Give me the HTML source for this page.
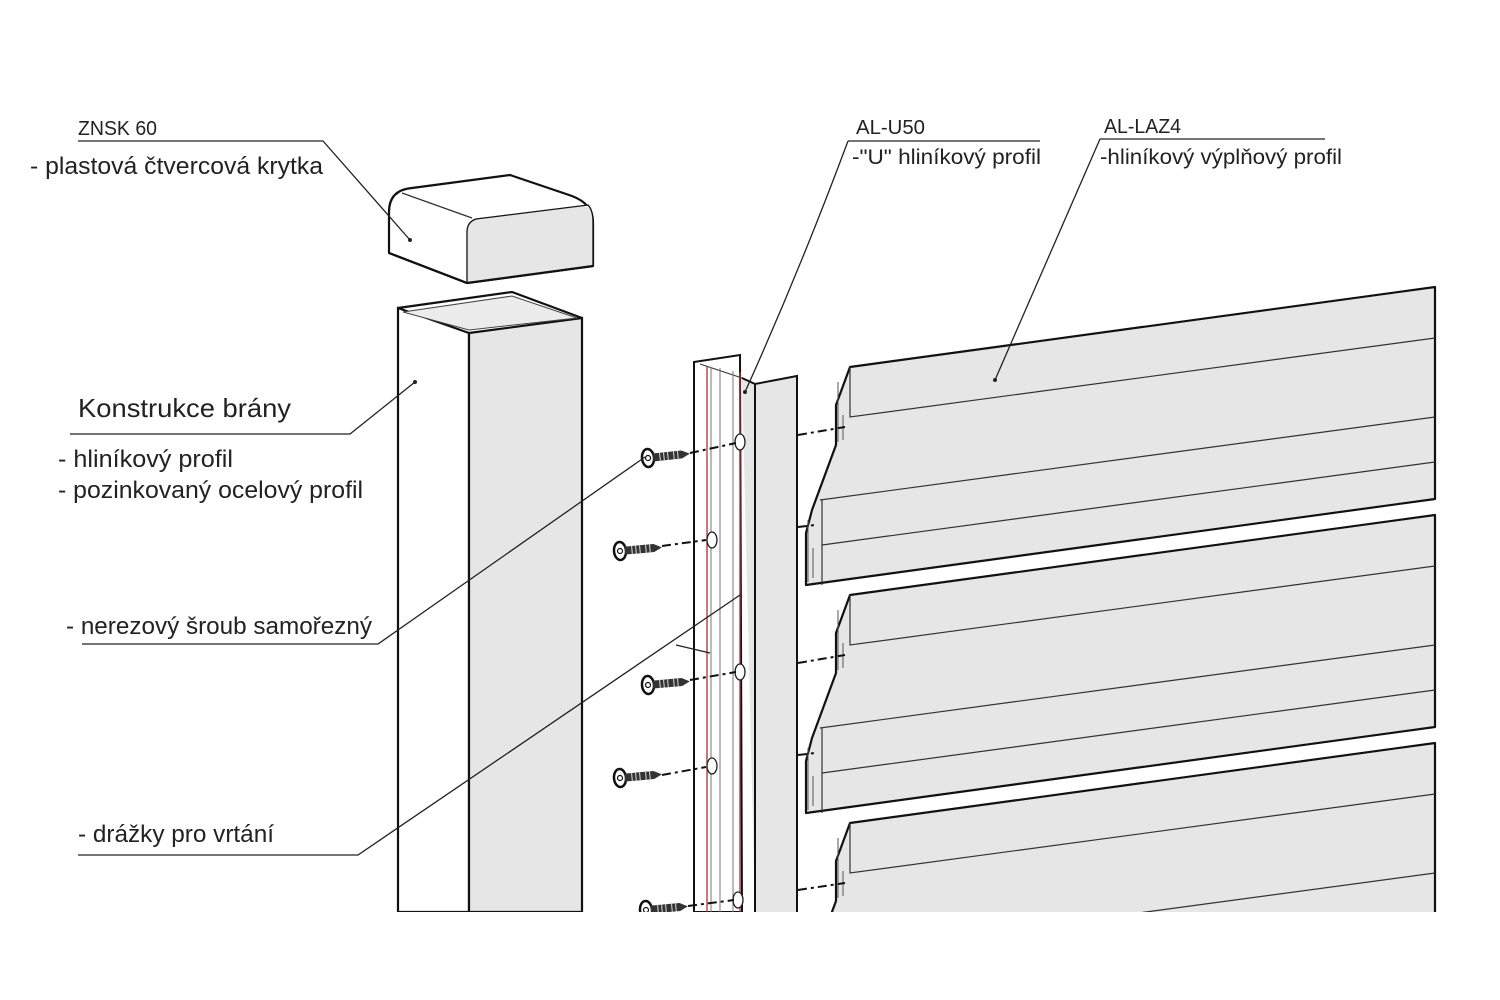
<!DOCTYPE html>
<html><head><meta charset="utf-8"><style>
html,body{margin:0;padding:0;background:#fff;}
svg{display:block;}
text{font-family:"Liberation Sans",sans-serif;fill:#222;}
</style></head><body>
<svg width="1500" height="1000" viewBox="0 0 1500 1000" xmlns="http://www.w3.org/2000/svg">
<rect width="1500" height="1000" fill="#fff"/>
<defs>
<clipPath id="c"><rect x="0" y="0" width="1500" height="912"/></clipPath>
<g id="lv">
<path d="M850,367 L1435,287 L1435,499 L806,585 L806,533 L812,510 L836,445 L836,405 Z" fill="#e6e6e6" stroke="#111" stroke-width="2.2" stroke-linejoin="round"/>
<path d="M850,367 L850,417 L1435,338" fill="none" stroke="#333" stroke-width="1.2"/>
<path d="M820,500 L1435,417 M822,545 L1435,462 M822,500 L822,585" fill="none" stroke="#333" stroke-width="1.2"/>
<path d="M838,382 L838,442 M843,415 L843,440" fill="none" stroke="#555" stroke-width="1"/>
<path d="M808,520 L808,582 M813,548 L813,578" fill="none" stroke="#555" stroke-width="1"/>
</g>
<g id="sc">
<ellipse cx="0" cy="0" rx="6" ry="9" fill="#fff" stroke="#111" stroke-width="2.5"/>
<circle cx="0" cy="0" r="2.5" fill="none" stroke="#111" stroke-width="1.2"/>
<path d="M5,-4 L34,-4 L42,0 L34,4 L5,4 Z" fill="#333"/>
<path d="M12,-4 v8 M16,-4 v8 M20,-4 v8 M26,-4 v8 M30,-4 v8" stroke="#ddd" stroke-width="1"/>
</g>
</defs>
<g clip-path="url(#c)">
<use href="#lv"/>
<use href="#lv" transform="translate(0,228)"/>
<use href="#lv" transform="translate(0,456)"/>
<path d="M398,308 L469,333 L469,912 L398,912 Z" fill="#fff" stroke="#111" stroke-width="2.2"/>
<path d="M469,333 L582,318 L582,912 L469,912 Z" fill="#e6e6e6" stroke="#111" stroke-width="2.2"/>
<path d="M398,308 L512,292 L582,318" fill="none" stroke="#111" stroke-width="2.2"/>
<path d="M403,312 L512,296 L577,318 L469,330 Z" fill="#ececec" stroke="#444" stroke-width="1"/>
<path d="M694,362 L740,355 L742,912 L694,912 Z" fill="#fff" stroke="#111" stroke-width="2"/>
<path d="M742,378 L755,384 L797,376 L797,912 L755,912" fill="#e6e6e6" stroke="#111" stroke-width="2"/>
<rect x="755" y="385" width="41" height="527" fill="#e6e6e6"/>
<path d="M755,384 L755,912" stroke="#111" stroke-width="2"/>
<path d="M700,364 L742,378" stroke="#333" stroke-width="1"/>
<path d="M707,366 V912 M740,372 V912" stroke="#b23030" stroke-width="1.3"/>
<path d="M711,367 V912 M720,368 V912 M733,371 V912" stroke="#777" stroke-width="1"/>
<g fill="#fff" stroke="#222" stroke-width="1.3">
<ellipse cx="740" cy="442" rx="5" ry="8"/><ellipse cx="712" cy="540" rx="5" ry="8"/>
<ellipse cx="740" cy="672" rx="5" ry="8"/><ellipse cx="712" cy="766" rx="5" ry="8"/>
<ellipse cx="738" cy="900" rx="5" ry="8"/>
</g>
<use href="#sc" transform="translate(648,458) rotate(-6)"/>
<use href="#sc" transform="translate(620,551) rotate(-5)"/>
<use href="#sc" transform="translate(648,685) rotate(-5)"/>
<use href="#sc" transform="translate(620,778) rotate(-5)"/>
<use href="#sc" transform="translate(646,910) rotate(-5)"/>
<g stroke="#111" stroke-width="2" stroke-dasharray="9,4,3,4" fill="none">
<path d="M690,453 L736,443"/><path d="M662,546 L706,540"/><path d="M690,680 L736,672"/><path d="M662,775 L706,767"/><path d="M688,906 L734,900"/>
<path d="M798,435 L845,427"/><path d="M798,527 L815,525"/><path d="M798,663 L845,655"/><path d="M798,755 L815,753"/><path d="M798,890 L845,883"/>
</g>
</g>
<path d="M389,253 L389,212 Q389,190 412,188 L510,175 L572,196 Q593,204 593,222 L593,266 L467,283 Z" fill="#fff" stroke="#111" stroke-width="2.2" stroke-linejoin="round"/>
<path d="M467,283 L467,232 Q467,222 476,219 L588,205 Q593,210 593,222 L593,266 Z" fill="#e6e6e6" stroke="#111" stroke-width="1.3"/>
<path d="M402,193 L472,218" stroke="#333" stroke-width="1.2" fill="none"/>
<path d="M389,253 L467,283 L593,266" stroke="#111" stroke-width="2.2" fill="none"/>
<g fill="none" stroke="#222" stroke-width="1.3">
<path d="M78,141 L323,141 L410,240"/>
<path d="M70,434 L350,434 L415,382"/>
<path d="M82,644 L378,644 L645,457"/>
<path d="M78,855 L358,855 L740,595"/>
<path d="M676,645 L710,653"/>
<path d="M848,141 L1040,141"/>
<path d="M848,141 Q800,270 745,392"/>
<path d="M1100,139 L1325,139"/>
<path d="M1100,139 L995,380"/>
</g>
<g fill="#222"><circle cx="410" cy="240" r="2"/><circle cx="415" cy="382" r="2"/><circle cx="745" cy="392" r="2"/><circle cx="995" cy="380" r="2"/></g>
<text x="78" y="135" font-size="20" textLength="79" lengthAdjust="spacingAndGlyphs">ZNSK 60</text>
<text x="30" y="174" font-size="24" textLength="293" lengthAdjust="spacingAndGlyphs">- plastová čtvercová krytka</text>
<text x="78" y="417" font-size="26" fill="#000" textLength="213" lengthAdjust="spacingAndGlyphs">Konstrukce brány</text>
<text x="58" y="467" font-size="24" textLength="175" lengthAdjust="spacingAndGlyphs">- hliníkový profil</text>
<text x="58" y="498" font-size="24" textLength="305" lengthAdjust="spacingAndGlyphs">- pozinkovaný ocelový profil</text>
<text x="66" y="634" font-size="24" textLength="306" lengthAdjust="spacingAndGlyphs">- nerezový šroub samořezný</text>
<text x="78" y="842" font-size="24" textLength="196" lengthAdjust="spacingAndGlyphs">- drážky pro vrtání</text>
<text x="856" y="134" font-size="20" textLength="69" lengthAdjust="spacingAndGlyphs">AL-U50</text>
<text x="852" y="164" font-size="21" textLength="189" lengthAdjust="spacingAndGlyphs">-"U" hliníkový profil</text>
<text x="1104" y="133" font-size="20" textLength="77" lengthAdjust="spacingAndGlyphs">AL-LAZ4</text>
<text x="1100" y="164" font-size="21" textLength="242" lengthAdjust="spacingAndGlyphs">-hliníkový výplňový profil</text>
</svg>
</body></html>
